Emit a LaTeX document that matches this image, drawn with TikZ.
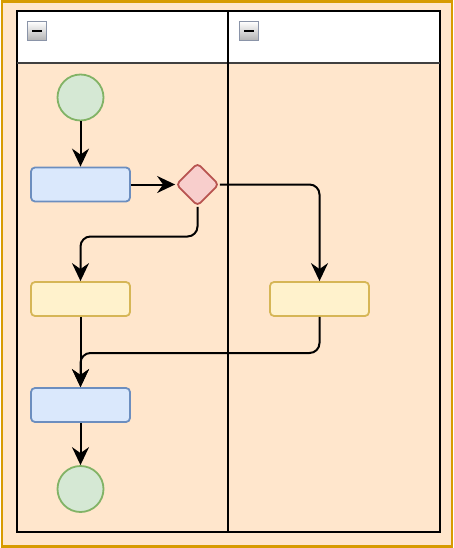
\documentclass[tikz,border=0pt]{standalone}
\usetikzlibrary{arrows.meta,shapes.geometric}
\definecolor{orfill}{HTML}{FFE6CC}
\definecolor{ordraw}{HTML}{D79B00}
\definecolor{bfill}{HTML}{DAE8FC}
\definecolor{bdraw}{HTML}{6C8EBF}
\definecolor{yfill}{HTML}{FFF2CC}
\definecolor{ydraw}{HTML}{D6B656}
\definecolor{gfill}{HTML}{D5E8D4}
\definecolor{gdraw}{HTML}{82B366}
\definecolor{rfill}{HTML}{F8CECC}
\definecolor{rdraw}{HTML}{B85450}
\definecolor{icond}{HTML}{8A94A8}
\tikzset{
  x=1pt,y=-1pt,
  actbox/.style={draw=bdraw,fill=bfill,line width=1.8pt,rounded corners=4pt,minimum width=99pt,minimum height=34pt,inner sep=0pt},
  ybox/.style={draw=ydraw,fill=yfill,line width=1.8pt,rounded corners=4pt,minimum width=99pt,minimum height=34pt,inner sep=0pt},
  statec/.style={circle,draw=gdraw,fill=gfill,line width=1.8pt,minimum size=46pt,inner sep=0pt},
  decis/.style={diamond,draw=rdraw,fill=rfill,line width=1.8pt,rounded corners=4pt,minimum width=43pt,minimum height=43pt,inner sep=0pt},
  flow/.style={line width=2pt,-{Stealth[length=18pt,width=17pt,inset=6pt]},rounded corners=10pt},
  iconbox/.style={draw=icond,line width=1.8pt,top color=white,bottom color=gray!60,minimum size=19pt,inner sep=0pt}
}
\begin{document}
\begin{tikzpicture}
\useasboundingbox (0,0) rectangle (454,548);
% outer frame
\draw[ordraw,fill=orfill,line width=2.5pt] (2,1.5) rectangle (452,546.5);
% header
\fill[white] (17,11) rectangle (440,63);
\draw[line width=2.2pt] (17,11) rectangle (440,532);
\draw[line width=2.2pt,black!75] (17,63) -- (440,63);
\draw[line width=2.2pt] (228,11) -- (228,532);
% icons
\node[iconbox] (ic1) at (37,31) {};
\draw[line width=2.6pt] ([xshift=-5pt]ic1.center) -- ([xshift=5pt]ic1.center);
\node[iconbox] (ic2) at (249,31) {};
\draw[line width=2.6pt] ([xshift=-5pt]ic2.center) -- ([xshift=5pt]ic2.center);
% nodes
\node[statec] (start) at (80.5,97.5) {};
\node[actbox] (act1) at (80.5,184.5) {};
\node[decis] (dec) at (197.5,184.5) {};
\node[ybox] (y1) at (80.5,299) {};
\node[ybox] (y2) at (319.5,299) {};
\node[actbox] (act2) at (80.5,405) {};
\node[statec] (end) at (80.5,489) {};
% edges
\draw[flow] (start) -- (act1);
\draw[flow] (act1) -- (dec);
\draw[flow] (dec.east) -| (y2.north);
\draw[flow] (dec.south) -- (197.5,236.5) -- (80.5,236.5) -- (y1.north);
\draw[flow] (y1) -- (act2);
\draw[flow] (y2.south) -- (319.5,353) -- (80.5,353) -- (act2.north);
\draw[flow] (act2) -- (end);
\end{tikzpicture}
\end{document}
